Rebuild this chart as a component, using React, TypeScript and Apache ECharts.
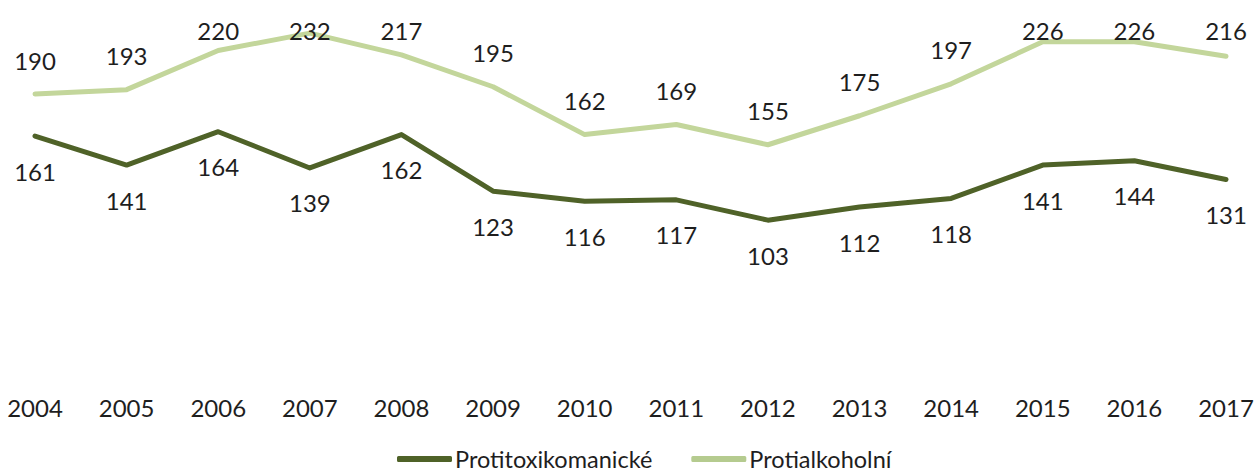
import React, { useEffect, useRef } from "react";
import * as echarts from "echarts";

const years = ["2004","2005","2006","2007","2008","2009","2010","2011","2012","2013","2014","2015","2016","2017"];
const protitoxikomanicke = [161,141,164,139,162,123,116,117,103,112,118,141,144,131];
const protialkoholni = [190,193,220,232,217,195,162,169,155,175,197,226,226,216];

const FONT = "Lato";
const TEXT = "#1e1e1e";
const TOP_LABEL_DIST = 22;
const LABEL_MIN_CENTER = 31;
const LABEL_ABOVE = 33;

export default function App() {
  const ref = useRef<HTMLDivElement>(null);
  useEffect(() => {
    if (!ref.current) return;
    const chart = echarts.init(ref.current, undefined, { renderer: "svg" });
    const base = {
      animation: false,
      backgroundColor: "#ffffff",
      grid: { left: 35, right: 31, top: 7, bottom: 100.5, containLabel: false },
      legend: {
        left: 392,
        top: 441,
        itemWidth: 55,
        itemHeight: 6,
        itemGap: 39,
        icon: "roundRect",
        textStyle: { fontFamily: FONT, fontSize: 23.5, lineHeight: 26, color: TEXT, padding: [0, 0, 0, -2] },
        data: ["Protitoxikomanické", "Protialkoholní"],
      },
      xAxis: {
        type: "category",
        data: years,
        boundaryGap: false,
        axisLine: { show: false },
        axisTick: { show: false },
        axisLabel: { fontFamily: FONT, fontSize: 24, color: TEXT, margin: 26 },
      },
      yAxis: {
        type: "value",
        min: 0,
        max: 250,
        show: false,
        splitLine: { show: false },
      },
      series: [
        {
          name: "Protitoxikomanické",
          type: "line",
          data: protitoxikomanicke,
          showSymbol: true,
          symbol: "circle",
          symbolSize: 0,
          lineStyle: { color: "#4f6228", width: 5, cap: "round", join: "round" },
          itemStyle: { color: "#4f6228" },
          label: {
            show: true,
            position: "bottom",
            distance: 23,
            fontFamily: FONT,
            fontSize: 24,
            color: TEXT,
          },
        },
        {
          name: "Protialkoholní",
          type: "line",
          data: protialkoholni,
          showSymbol: true,
          symbol: "circle",
          symbolSize: 0,
          lineStyle: { color: "#c3d69b", width: 5, cap: "round", join: "round" },
          itemStyle: { color: "#b5cb8f" },
          label: {
            show: true,
            position: "top",
            distance: TOP_LABEL_DIST,
            fontFamily: FONT,
            fontSize: 24,
            color: TEXT,
          },
        },
      ],
    };
    chart.setOption(base);
    // Keep top labels inside the chart area (pushed down like the original).
    const lightData = protialkoholni.map((v, i) => {
      const p = chart.convertToPixel({ seriesIndex: 1 }, [i, v]) as number[];
      const centre = p[1] - LABEL_ABOVE;
      const dy = Math.max(0, LABEL_MIN_CENTER - centre);
      return dy > 0 ? { value: v, label: { offset: [0, dy] } } : v;
    });
    chart.setOption({ series: [{}, { data: lightData }] });
    return () => chart.dispose();
  }, []);
  return (
    <div
      ref={ref}
      style={{ position: "fixed", left: 0, top: 0, width: 1257, height: 470 }}
    />
  );
}
